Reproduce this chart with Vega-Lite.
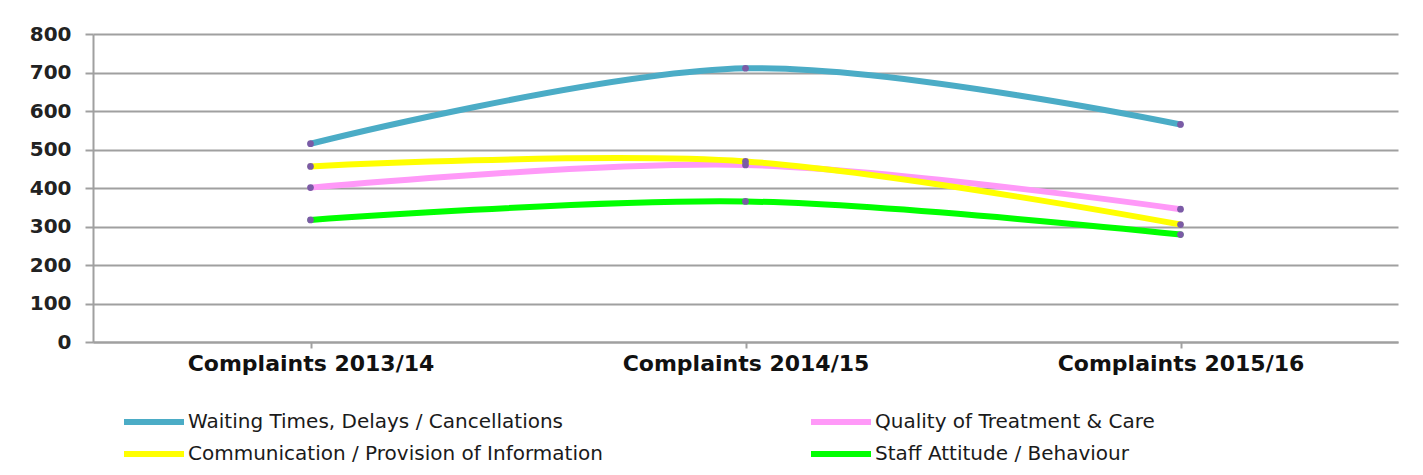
{
  "$schema": "https://vega.github.io/schema/vega-lite/v6.json",
  "width": 1305,
  "height": 308,
  "autosize": {"type": "none"},
  "padding": {"left": 93, "top": 34, "right": 25, "bottom": 133},
  "background": "white",
  "config": {
    "view": {"stroke": null},
    "font": "DejaVu Sans"
  },
  "data": {
    "values": [
      {"period": "Complaints 2013/14", "category": "Waiting Times, Delays / Cancellations", "value": 515},
      {"period": "Complaints 2014/15", "category": "Waiting Times, Delays / Cancellations", "value": 711},
      {"period": "Complaints 2015/16", "category": "Waiting Times, Delays / Cancellations", "value": 565},
      {"period": "Complaints 2013/14", "category": "Quality of Treatment & Care", "value": 401},
      {"period": "Complaints 2014/15", "category": "Quality of Treatment & Care", "value": 460},
      {"period": "Complaints 2015/16", "category": "Quality of Treatment & Care", "value": 345},
      {"period": "Complaints 2013/14", "category": "Communication / Provision of Information", "value": 456},
      {"period": "Complaints 2014/15", "category": "Communication / Provision of Information", "value": 469},
      {"period": "Complaints 2015/16", "category": "Communication / Provision of Information", "value": 305},
      {"period": "Complaints 2013/14", "category": "Staff Attitude / Behaviour", "value": 317},
      {"period": "Complaints 2014/15", "category": "Staff Attitude / Behaviour", "value": 365},
      {"period": "Complaints 2015/16", "category": "Staff Attitude / Behaviour", "value": 279}
    ]
  },
  "encoding": {
    "x": {
      "field": "period",
      "type": "nominal",
      "sort": null,
      "scale": {"paddingInner": 0, "paddingOuter": 0},
      "axis": {
        "title": null,
        "labelAngle": 0,
        "labelFont": "DejaVu Sans",
        "labelFontWeight": "bold",
        "labelFontSize": 22,
        "labelLimit": 400,
        "labelColor": "#111111",
        "labelPadding": 5,
        "bandPosition": 0,
        "tickSize": 6,
        "tickColor": "#a0a0a0",
        "tickWidth": 2,
        "domainColor": "#a0a0a0",
        "domainWidth": 2,
        "grid": false
      }
    },
    "y": {
      "field": "value",
      "type": "quantitative",
      "scale": {"domain": [0, 800], "nice": false},
      "axis": {
        "title": null,
        "values": [0, 100, 200, 300, 400, 500, 600, 700, 800],
        "labelFont": "DejaVu Sans",
        "labelFontWeight": "bold",
        "labelFontSize": 20,
        "labelColor": "#222222",
        "labelPadding": 14,
        "tickSize": 8,
        "tickColor": "#a0a0a0",
        "tickWidth": 2,
        "domainColor": "#a0a0a0",
        "domainWidth": 2,
        "grid": true,
        "gridColor": "#a0a0a0",
        "gridWidth": 2
      }
    },
    "color": {
      "field": "category",
      "type": "nominal",
      "sort": null,
      "scale": {
        "domain": ["Waiting Times, Delays / Cancellations", "Communication / Provision of Information", "Quality of Treatment & Care", "Staff Attitude / Behaviour"],
        "range": ["#4bacc6", "#ffff00", "#ff99f8", "#00ff00"]
      },
      "legend": {
        "title": null,
        "orient": "none",
        "legendX": 43,
        "legendY": 370,
        "columns": 2,
        "columnPadding": 196,
        "rowPadding": 2,
        "symbolType": "M-2,0H2",
        "symbolSize": 900,
        "symbolStrokeWidth": 6,
        "labelFont": "DejaVu Sans",
        "labelFontSize": 20,
        "labelColor": "#1a1a1a",
        "labelOffset": 16,
        "labelLimit": 600
      }
    }
  },
  "layer": [
    {
      "mark": {"type": "line", "interpolate": "cardinal", "strokeWidth": 6, "strokeCap": "round"}
    },
    {
      "mark": {"type": "point", "filled": true, "size": 45, "color": "#7b5ba6", "opacity": 1},
      "encoding": {"color": {"value": "#7b5ba6"}, "detail": {"field": "category"}}
    }
  ]
}
